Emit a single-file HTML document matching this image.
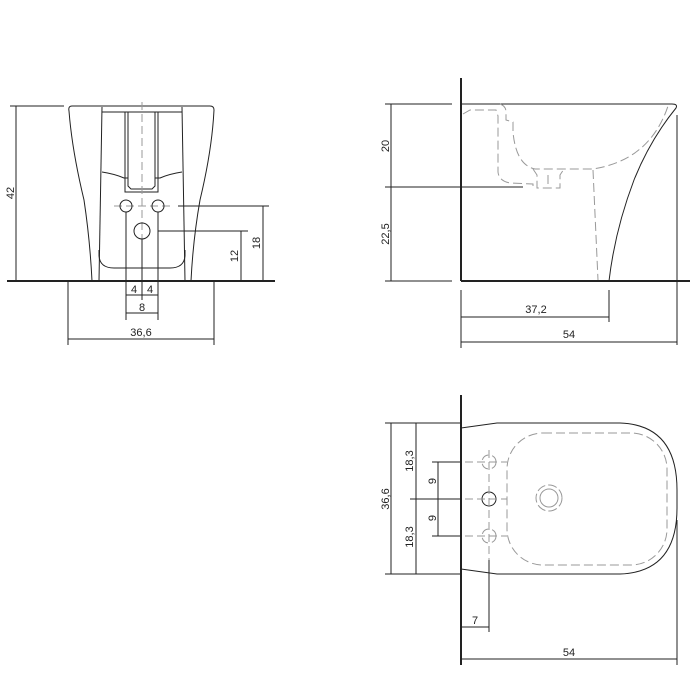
<!DOCTYPE html>
<html><head><meta charset="utf-8"><style>
html,body{margin:0;padding:0;background:#fff;}
svg{display:block}
text{font-family:"Liberation Sans",Arial,sans-serif;font-size:11px;fill:#222}
</style></head><body>
<svg width="700" height="700" viewBox="0 0 700 700" xmlns="http://www.w3.org/2000/svg">
<g fill="none" stroke="#222" stroke-width="1">
<!-- FRONT VIEW -->
<line x1="7" y1="281" x2="275" y2="281" stroke-width="2"/>
<line x1="10" y1="106" x2="64" y2="106"/>
<line x1="16" y1="106" x2="16" y2="281"/>
<path d="M72,106 L210,106 Q214,106 214,110 Q212,150 200,200 Q193,240 191,281"/>
<path d="M72,106 Q68,106 69,111 Q72,150 84,200 Q90,240 92,281"/>
<path d="M102,107 L99,281"/>
<path d="M182,107 L185,281"/>
<line x1="102" y1="112" x2="182" y2="112"/>
<rect x="125" y="112" width="33" height="80"/>
<path d="M128,112 L128,186 L131,189 L152,189 L155,186 L155,112"/>
<path d="M102,172 Q115,174 124,178 L128,178"/>
<path d="M182,172 Q169,174 160,178 L155,178"/>
<path d="M99,250 L99,256 Q100,268 114,268 L170,268 Q184,268 185,256 L185,250"/>
<line x1="142" y1="102" x2="142" y2="281" stroke="#999" stroke-dasharray="8,4"/>
<line x1="114" y1="206" x2="170" y2="206" stroke="#999" stroke-dasharray="8,4"/>
<circle cx="126" cy="206" r="6"/>
<circle cx="158" cy="206" r="6"/>
<circle cx="142" cy="231" r="8"/>
<line x1="178" y1="206" x2="269" y2="206"/>
<line x1="158" y1="231" x2="248" y2="231"/>
<line x1="263" y1="206" x2="263" y2="281"/>
<line x1="241" y1="231" x2="241" y2="281"/>
<line x1="126" y1="212" x2="126" y2="320"/>
<line x1="158" y1="212" x2="158" y2="320"/>
<line x1="142" y1="239" x2="142" y2="300"/>
<line x1="126" y1="295" x2="158" y2="295"/>
<line x1="126" y1="313" x2="158" y2="313"/>
<line x1="68" y1="281" x2="68" y2="345"/>
<line x1="214" y1="281" x2="214" y2="345"/>
<line x1="68" y1="339" x2="214" y2="339"/>

<!-- SIDE VIEW -->
<line x1="461" y1="78" x2="461" y2="281" stroke-width="2"/>
<line x1="461" y1="281" x2="690" y2="281" stroke-width="2"/>
<line x1="385" y1="104" x2="452" y2="104"/>
<line x1="385" y1="281" x2="452" y2="281"/>
<line x1="385" y1="187" x2="523" y2="187"/>
<line x1="391" y1="104" x2="391" y2="281"/>
<path d="M461,104 L672,104 Q678,104 676,108 Q650,140 634,180 Q615,230 609,281"/>
<line x1="677" y1="115" x2="677" y2="345"/>
<g stroke="#999" stroke-dasharray="9,4">
<path d="M463,114 L470,110 L496,110 L498,116 L498,172 Q499,181 510,183 L533,184 L533,188"/>
<path d="M500,104 Q506,106 506,112 L506,120 L513,122 L513,132 Q516,165 535,169 L593,169 Q650,160 668,106"/>
<path d="M533,169 L537,175 L537,188 L560,188 L560,175 L564,169"/>
<line x1="548" y1="175" x2="548" y2="188"/>
<path d="M593,170 L598,280"/>
</g>
<line x1="609" y1="290" x2="609" y2="322"/>
<line x1="461" y1="290" x2="461" y2="348"/>
<line x1="461" y1="317" x2="609" y2="317"/>
<line x1="461" y1="342" x2="677" y2="342"/>

<!-- TOP VIEW -->
<line x1="461" y1="395" x2="461" y2="665" stroke-width="2"/>
<line x1="385" y1="423" x2="461" y2="423"/>
<line x1="385" y1="574" x2="461" y2="574"/>
<line x1="391" y1="423" x2="391" y2="574"/>
<line x1="416" y1="423" x2="416" y2="574"/>
<line x1="410" y1="499" x2="461" y2="499"/>
<line x1="432" y1="462" x2="461" y2="462"/>
<line x1="432" y1="536" x2="461" y2="536"/>
<line x1="438" y1="462" x2="438" y2="536"/>
<path d="M461,428 L497,423 L620,423 Q677,425 677,490 L677,508 Q677,572 620,574 L497,574 L461,569"/>
<rect x="507" y="433" width="160" height="132" rx="36" stroke="#999" stroke-dasharray="9,4"/>
<circle cx="549" cy="498" r="13" stroke="#999" stroke-dasharray="9,3"/>
<circle cx="549" cy="498" r="9" stroke="#999"/>
<circle cx="489" cy="499" r="7"/>
<g stroke="#999" stroke-dasharray="8,4">
<circle cx="489" cy="462" r="7"/>
<circle cx="489" cy="536" r="7"/>
<line x1="465" y1="462" x2="507" y2="462"/>
<line x1="465" y1="499" x2="507" y2="499"/>
<line x1="465" y1="536" x2="507" y2="536"/>
<line x1="489" y1="450" x2="489" y2="560"/>
</g>
<line x1="489" y1="560" x2="489" y2="632"/>
<line x1="461" y1="627" x2="489" y2="627"/>
<line x1="677" y1="520" x2="677" y2="665"/>
<line x1="461" y1="659" x2="677" y2="659"/>
</g>
<g>
<text x="14" y="193" transform="rotate(-90 14 193)" text-anchor="middle">42</text>
<text x="260" y="243" transform="rotate(-90 260 243)" text-anchor="middle">18</text>
<text x="238" y="256" transform="rotate(-90 238 256)" text-anchor="middle">12</text>
<text x="134" y="293" text-anchor="middle">4</text>
<text x="150" y="293" text-anchor="middle">4</text>
<text x="142" y="311" text-anchor="middle">8</text>
<text x="141" y="336" text-anchor="middle">36,6</text>
<text x="389" y="146" transform="rotate(-90 389 146)" text-anchor="middle">20</text>
<text x="389" y="234" transform="rotate(-90 389 234)" text-anchor="middle">22,5</text>
<text x="536" y="313" text-anchor="middle">37,2</text>
<text x="569" y="338" text-anchor="middle">54</text>
<text x="389" y="499" transform="rotate(-90 389 499)" text-anchor="middle">36,6</text>
<text x="413" y="461" transform="rotate(-90 413 461)" text-anchor="middle">18,3</text>
<text x="413" y="537" transform="rotate(-90 413 537)" text-anchor="middle">18,3</text>
<text x="436" y="481" transform="rotate(-90 436 481)" text-anchor="middle">9</text>
<text x="436" y="518" transform="rotate(-90 436 518)" text-anchor="middle">9</text>
<text x="475" y="624" text-anchor="middle">7</text>
<text x="569" y="656" text-anchor="middle">54</text>
</g>
</svg>
</body></html>
